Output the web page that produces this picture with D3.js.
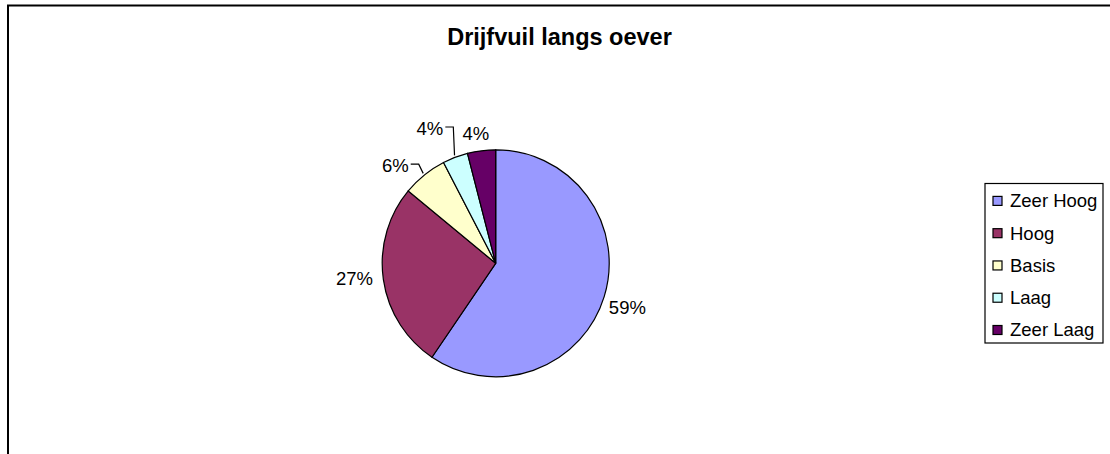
<!DOCTYPE html>
<html>
<head>
<meta charset="utf-8">
<script src="https://cdn.jsdelivr.net/npm/d3@7"></script>
<style>
  body { margin: 0; background: #fff; }
  svg { display: block; font-family: "Liberation Sans", Arial, sans-serif; }
</style>
</head>
<body>
<svg id="chart"></svg>
<script>
// data
var categories = ["Zeer Hoog", "Hoog", "Basis", "Laag", "Zeer Laag"];
var values = [59.49, 26.51, 6.4, 3.6, 4.0];
var colors = ["#9999ff", "#993366", "#ffffcc", "#ccffff", "#660066"];
var title = "Drijfvuil langs oever";

var W = 1110, H = 454;
var cx = 495.7, cy = 263.3, radius = 113.5;

// where Excel put each label (angle in degrees clockwise from top, distance from centre)
var labelAt = [[108.7, 139], [263.9, 142], [314.2, 140], [334, 150], [351.3, 131.5]];
var withLeader = [false, false, true, true, false];

var svg = d3.select("#chart").attr("width", W).attr("height", H);

// chart frame (runs off the right and bottom edge)
svg.append("rect")
  .attr("x", 8).attr("y", 5.5)
  .attr("width", 1120).attr("height", 470)
  .attr("fill", "#fff").attr("stroke", "#000").attr("stroke-width", 2);

svg.append("text")
  .attr("x", 559.5).attr("y", 45)
  .attr("text-anchor", "middle")
  .attr("font-size", "23.5px").attr("font-weight", "bold")
  .text(title);

var total = d3.sum(values);
var pie = d3.pie().sort(null).value(function (d) { return d; });
var arcs = pie(values);
var arc = d3.arc().innerRadius(0).outerRadius(radius);

var g = svg.append("g").attr("transform", "translate(" + cx + "," + cy + ")");

g.selectAll("path")
  .data(arcs)
  .enter()
  .append("path")
  .attr("d", arc)
  .attr("fill", function (d, i) { return colors[i]; })
  .attr("stroke", "#000")
  .attr("stroke-width", 1.2);

function polar(angDeg, r) {
  var a = angDeg * Math.PI / 180;
  return [r * Math.sin(a), -r * Math.cos(a)];
}

var fontSize = 18.5;
arcs.forEach(function (d, i) {
  var p = polar(labelAt[i][0], labelAt[i][1]);
  var label = Math.round(d.value / total * 100) + "%";
  var t = g.append("text")
    .attr("x", p[0]).attr("y", p[1])
    .attr("dy", "0.35em")
    .attr("text-anchor", "middle")
    .attr("font-size", fontSize + "px")
    .attr("fill", "#000")
    .text(label);

  if (withLeader[i]) {
    var bb = t.node().getBBox();
    var mid = (d.startAngle + d.endAngle) / 2 * 180 / Math.PI;
    var start = polar(mid, radius + 2);
    var right = bb.x + bb.width;
    var ly = p[1] - 1.5;
    g.append("polyline")
      .attr("points", [start, [right + 10, ly], [right + 2, ly]].map(function (q) { return q.join(","); }).join(" "))
      .attr("fill", "none")
      .attr("stroke", "#000")
      .attr("stroke-width", 1.2);
  }
});

// legend
var legend = svg.append("g");
legend.append("rect")
  .attr("x", 985).attr("y", 183.5)
  .attr("width", 118).attr("height", 159.5)
  .attr("fill", "#fff").attr("stroke", "#000").attr("stroke-width", 1.2);

var ly = d3.scalePoint().domain(categories).range([200.9, 330]);

var items = legend.selectAll("g.item")
  .data(categories)
  .enter()
  .append("g")
  .attr("class", "item")
  .attr("transform", function (d) { return "translate(0," + ly(d) + ")"; });

items.append("rect")
  .attr("x", 993).attr("y", -4.5)
  .attr("width", 9).attr("height", 9)
  .attr("fill", function (d, i) { return colors[i]; })
  .attr("stroke", "#000").attr("stroke-width", 1.2);

items.append("text")
  .attr("x", 1010).attr("y", 0)
  .attr("dy", "0.35em")
  .attr("font-size", fontSize + "px")
  .text(function (d) { return d; });
</script>
</body>
</html>
